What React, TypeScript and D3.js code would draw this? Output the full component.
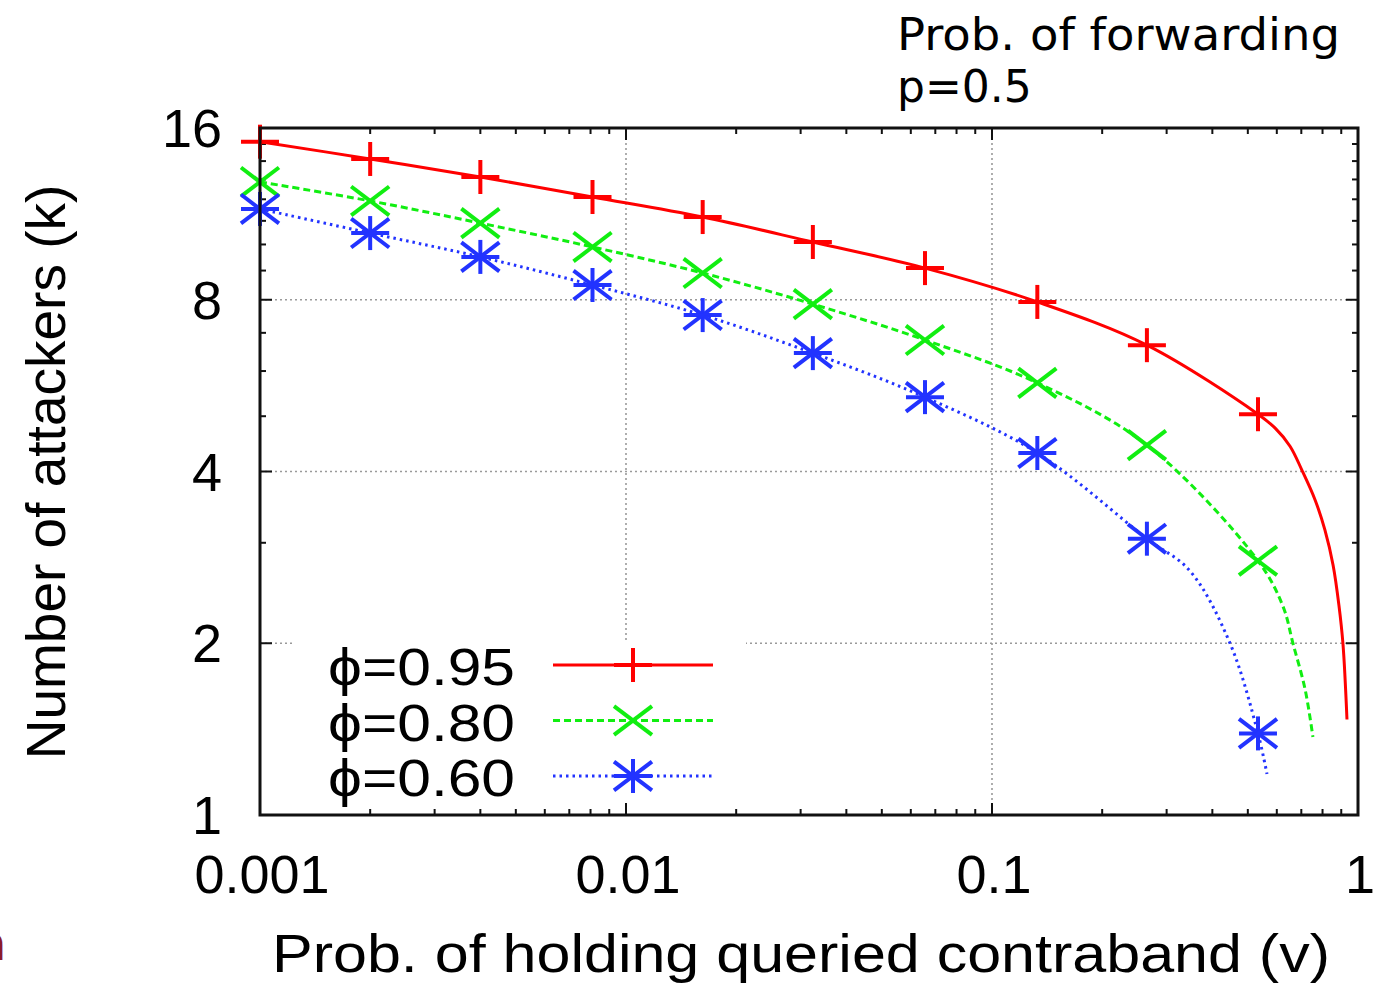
import React from 'react';
import * as d3 from 'd3';

// sampled v values where gnuplot put the point symbols
const markerV = [0.001, 0.002, 0.004, 0.0081, 0.0162, 0.0324, 0.0656, 0.133, 0.265, 0.533];
const kPhi95 = [15.14, 14.12, 13.13, 12.11, 11.17, 10.1, 9.09, 7.93, 6.66, 5.04];
const kPhi80 = [12.87, 11.92, 10.9, 9.9, 8.91, 7.86, 6.8, 5.72, 4.45, 2.79];
const kPhi60 = [11.54, 10.47, 9.51, 8.49, 7.52, 6.45, 5.4, 4.31, 3.05, 1.39];

// extra curve points (between / after the symbols)
const extraV95 = [0.593, 0.652, 0.703, 0.763, 0.812, 0.855, 0.887, 0.91, 0.933];
const extraK95 = [4.77, 4.43, 4.02, 3.57, 3.16, 2.74, 2.33, 1.99, 1.47];
const extraV80 = [0.624, 0.664, 0.717, 0.753];
const extraK80 = [2.32, 2.0, 1.66, 1.37];
const extraV60 = [0.347, 0.447, 0.564];
const extraK60 = [2.68, 2.0, 1.18];

const seriesLabels = ['\u03d5=0.95', '\u03d5=0.80', '\u03d5=0.60'];
const xTicks = [0.001, 0.01, 0.1, 1];
const xTickLabels = ['0.001', '0.01', '0.1', '1'];
const yTicks = [1, 2, 4, 8, 16];
const yMinor = [3, 5, 6, 7, 9, 10, 11, 12, 13, 14, 15];

const W = 1378, H = 983;
const left = 260, right = 1358, top = 128, bottom = 815;
const FONT = '"Liberation Sans", Arial, Helvetica, sans-serif';

const x = d3.scaleLog().domain([0.001, 1]).range([left, right]);
const y = d3.scaleLog().base(2).domain([1, 16]).range([bottom, top]);

const line = d3.line<[number, number]>()
  .x(d => x(d[0]))
  .y(d => y(d[1]))
  .curve(d3.curveCatmullRom.alpha(0.5));

function merge(v1: number[], k1: number[], v2: number[], k2: number[]): [number, number][] {
  const pts: [number, number][] = v1.map((v, i) => [v, k1[i]]);
  v2.forEach((v, i) => pts.push([v, k2[i]]));
  return pts.sort((a, b) => a[0] - b[0]);
}

const SX = 19, SY = 17;

function Plus({ cx, cy, color }: any) {
  return (
    <g stroke={color} strokeWidth={4}>
      <line x1={cx - SX} x2={cx + SX} y1={cy} y2={cy} />
      <line x1={cx} x2={cx} y1={cy - SY} y2={cy + SY} />
    </g>
  );
}

function Cross({ cx, cy, color }: any) {
  return (
    <g stroke={color} strokeWidth={4}>
      <line x1={cx - SX} x2={cx + SX} y1={cy - SY * 0.85} y2={cy + SY * 0.85} />
      <line x1={cx - SX} x2={cx + SX} y1={cy + SY * 0.85} y2={cy - SY * 0.85} />
    </g>
  );
}

function Star({ cx, cy, color }: any) {
  return (
    <g>
      <Plus cx={cx} cy={cy} color={color} />
      <Cross cx={cx} cy={cy} color={color} />
    </g>
  );
}

const series = [
  { label: seriesLabels[0], color: '#ff0000', dash: undefined, k: kPhi95, pts: merge(markerV, kPhi95, extraV95, extraK95), Mark: Plus },
  { label: seriesLabels[1], color: '#11ee11', dash: '7,4', k: kPhi80, pts: merge(markerV, kPhi80, extraV80, extraK80), Mark: Cross },
  { label: seriesLabels[2], color: '#2233ff', dash: '2.5,4', k: kPhi60, pts: merge(markerV, kPhi60, extraV60, extraK60), Mark: Star },
];

export default function App() {
  const xMinor: number[] = [];
  [0.001, 0.01, 0.1].forEach(d => { for (let i = 2; i <= 9; i++) xMinor.push(d * i); });

  return (
    <svg width={W} height={H} style={{ position: 'absolute', left: 0, top: 0, background: '#fff' }}>
      <rect x={0} y={0} width={W} height={H} fill="#fff" />

      {/* grid */}
      <g stroke="#9a9a9a" strokeWidth={1.6} strokeDasharray="2,3">
        {[0.01, 0.1].map(t => (
          <line key={t} x1={x(t)} x2={x(t)} y1={top} y2={bottom} />
        ))}
        {[2, 4, 8].map(t => (
          <line key={t} x1={left} x2={right} y1={y(t)} y2={y(t)} />
        ))}
      </g>

      {/* legend background */}
      <rect x={295} y={640} width={451} height={165} fill="#fff" />

      {/* ticks */}
      <g stroke="#111" strokeWidth={2}>
        {xTicks.map(t => (
          <g key={t}>
            <line x1={x(t)} x2={x(t)} y1={bottom} y2={bottom - 12} />
            <line x1={x(t)} x2={x(t)} y1={top} y2={top + 12} />
          </g>
        ))}
        {xMinor.map(t => (
          <g key={t}>
            <line x1={x(t)} x2={x(t)} y1={bottom} y2={bottom - 6} />
            <line x1={x(t)} x2={x(t)} y1={top} y2={top + 6} />
          </g>
        ))}
        {yTicks.map(t => (
          <g key={t}>
            <line x1={left} x2={left + 12} y1={y(t)} y2={y(t)} />
            <line x1={right} x2={right - 12} y1={y(t)} y2={y(t)} />
          </g>
        ))}
        {yMinor.map(t => (
          <g key={t}>
            <line x1={left} x2={left + 6} y1={y(t)} y2={y(t)} />
            <line x1={right} x2={right - 6} y1={y(t)} y2={y(t)} />
          </g>
        ))}
      </g>

      {/* curves */}
      {series.map(s => (
        <path key={s.label} d={line(s.pts) || ''} fill="none" stroke={s.color}
          strokeWidth={3} strokeDasharray={s.dash} />
      ))}
      {series.map(s => (
        <g key={s.label + 'm'}>
          {markerV.map((v, i) => <s.Mark key={i} cx={x(v)} cy={y(s.k[i])} color={s.color} />)}
        </g>
      ))}

      {/* border */}
      <rect x={left} y={top} width={right - left} height={bottom - top} fill="none" stroke="#111" strokeWidth={3} />

      {/* tick labels */}
      <g fontFamily={FONT} fontSize={54} fill="#000">
        {xTicks.map((t, i) => (
          <text key={t} x={x(t) + 2} y={893} textAnchor="middle">{xTickLabels[i]}</text>
        ))}
        {yTicks.map(t => (
          <text key={t} x={222} y={y(t) + 19} textAnchor="end">{t}</text>
        ))}
      </g>

      {/* axis titles */}
      <text x={272} y={972} fontFamily={FONT} fontSize={54} textLength={1058} lengthAdjust="spacingAndGlyphs">
        Prob. of holding queried contraband (v)
      </text>
      <text transform="translate(65,472) rotate(-90)" textAnchor="middle" fontFamily={FONT} fontSize={55}>
        Number of attackers (k)
      </text>

      {/* legend */}
      {series.map((s, i) => {
        const ly = 665 + i * 55.5;
        return (
          <g key={s.label + 'l'}>
            <text x={515} y={ly + 20} textAnchor="end" fontFamily={FONT} fontSize={52}
              textLength={187} lengthAdjust="spacingAndGlyphs">{s.label}</text>
            <line x1={553} x2={713} y1={ly} y2={ly} stroke={s.color} strokeWidth={3} strokeDasharray={s.dash} />
            <s.Mark cx={633} cy={ly} color={s.color} />
          </g>
        );
      })}

      {/* annotation */}
      <text x={897} y={50} fontFamily='"DejaVu Sans", Verdana, sans-serif' fontSize={44}
        textLength={443} lengthAdjust="spacingAndGlyphs">Prob. of forwarding</text>
      <text x={897} y={102} fontFamily='"DejaVu Sans", Verdana, sans-serif' fontSize={44}>p=0.5</text>

      {/* slide fragment at the left edge */}
      <text x={-24} y={960} fontFamily='"DejaVu Sans", sans-serif' fontSize={48} fill="#8b1a2b">n</text>
    </svg>
  );
}
